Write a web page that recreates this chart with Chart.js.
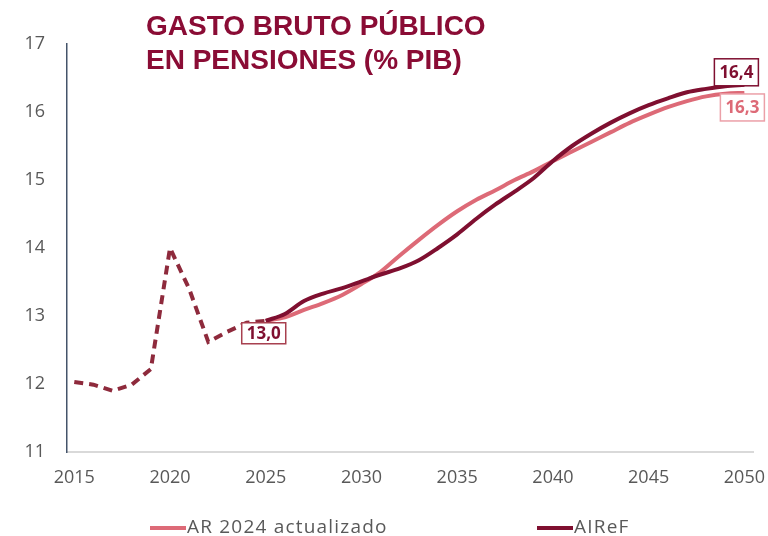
<!DOCTYPE html>
<html lang="es">
<head>
<meta charset="utf-8">
<title>Gasto bruto público en pensiones</title>
<script src="https://cdn.jsdelivr.net/npm/chart.js@4.4.1/dist/chart.umd.min.js"></script>
<style>
    html, body { margin: 0; padding: 0; background: #fff; }
    #wrap { position: relative; width: 768px; height: 536px; }
</style>
</head>
<body>
<div id="wrap"><canvas id="chartPensiones"></canvas></div>
<script>
// ==================== DATOS ====================

const titleLines = ['GASTO BRUTO PÚBLICO', 'EN PENSIONES (% PIB)'];

const histYears = [2015, 2016, 2017, 2018, 2019, 2020, 2021, 2022, 2023, 2024, 2025];
const histValues = [12.03, 11.99, 11.90, 11.99, 12.22, 14.00, 13.40, 12.62, 12.77, 12.90, 12.93];

const projYears = [2025, 2026, 2027, 2028, 2029, 2030, 2031, 2032, 2033, 2034, 2035, 2036, 2037,
    2038, 2039, 2040, 2041, 2042, 2043, 2044, 2045, 2046, 2047, 2048, 2049, 2050];
const arValues = [12.93, 12.98, 13.09, 13.19, 13.31, 13.47, 13.65, 13.89, 14.12, 14.34, 14.54, 14.71, 14.85,
    15.00, 15.13, 15.28, 15.42, 15.56, 15.70, 15.84, 15.96, 16.07, 16.16, 16.23, 16.27, 16.28];
const airefValues = [12.93, 13.03, 13.22, 13.33, 13.41, 13.51, 13.61, 13.70, 13.82, 14.00, 14.20, 14.43, 14.64,
    14.83, 15.03, 15.28, 15.50, 15.68, 15.84, 15.98, 16.10, 16.20, 16.29, 16.34, 16.38, 16.40];

const seriesLabels = ['AR 2024 actualizado', 'AIReF'];
const xTicks = [2015, 2020, 2025, 2030, 2035, 2040, 2045, 2050];
const boxTexts = ['13,0', '16,4', '16,3'];

// ==================== ESTILO ====================

const FONT = '"Open Sans", "DejaVu Sans", sans-serif';
const GRAY = '#595959';
const C_TITLE = '#8a0c35';
const C_HIST = '#8e2a3c';
const C_AIREF = '#7f0f30';
const C_AR = '#dd6a77';

function toPoints(xs, ys) {
    return xs.map((x, i) => ({ x: x, y: ys[i] }));
}

// cajas de valor: dataset, índice del punto, desplazamiento de la caja
const boxes = [
    { ds: 2, idx: histValues.length - 1, dx: -2, dy: 2, h: 21, text: C_AIREF, border: '#a8404f' },
    { ds: 1, idx: airefValues.length - 1, dx: -8, dy: -26, h: 27, text: C_AIREF, border: C_AIREF },
    { ds: 0, idx: arValues.length - 1, dx: -2, dy: 1, h: 27, text: C_AR, border: '#eba0a8' }
];

const overlayPlugin = {
    id: 'overlay',
    afterDraw(chart) {
        const ctx = chart.ctx;
        ctx.save();

        // título
        ctx.fillStyle = C_TITLE;
        ctx.font = 'bold 28px "Liberation Sans", Arial, sans-serif';
        ctx.textAlign = 'left';
        ctx.textBaseline = 'alphabetic';
        titleLines.forEach((t, i) => ctx.fillText(t, 146, 35 + i * 34));

        // cajas con valores
        ctx.font = 'bold 17px ' + FONT;
        ctx.textAlign = 'center';
        ctx.textBaseline = 'middle';
        boxes.forEach((b, i) => {
            const pt = chart.getDatasetMeta(b.ds).data[b.idx];
            const w = ctx.measureText(boxTexts[i]).width + 10;
            const cx = pt.x + b.dx;
            const top = pt.y + b.dy;
            ctx.fillStyle = '#fff';
            ctx.fillRect(cx - w / 2, top, w, b.h);
            ctx.strokeStyle = b.border;
            ctx.lineWidth = 1.5;
            ctx.strokeRect(cx - w / 2, top, w, b.h);
            ctx.fillStyle = b.text;
            ctx.fillText(boxTexts[i], cx, top + b.h / 2 + 1);
        });

        // leyenda
        const legendX = [150, 537];
        const legendY = 528;
        ctx.font = '19px ' + FONT;
        ctx.letterSpacing = '1.2px';
        ctx.textAlign = 'left';
        ctx.textBaseline = 'middle';
        [0, 1].forEach(i => {
            const ds = chart.data.datasets[i];
            ctx.strokeStyle = ds.borderColor;
            ctx.lineWidth = 4;
            ctx.beginPath();
            ctx.moveTo(legendX[i], legendY);
            ctx.lineTo(legendX[i] + 36, legendY);
            ctx.stroke();
            ctx.fillStyle = GRAY;
            ctx.fillText(ds.label, legendX[i] + 37, legendY);
        });

        ctx.restore();
    }
};

// ==================== GRÁFICO ====================

new Chart(document.getElementById('chartPensiones'), {
    type: 'line',
    data: {
        datasets: [
            {
                label: seriesLabels[0],
                data: toPoints(projYears, arValues),
                borderColor: C_AR,
                borderWidth: 4,
                cubicInterpolationMode: 'monotone',
                pointRadius: 0,
                order: 1
            },
            {
                label: seriesLabels[1],
                data: toPoints(projYears, airefValues),
                borderColor: C_AIREF,
                borderWidth: 4,
                cubicInterpolationMode: 'monotone',
                pointRadius: 0,
                order: 0
            },
            {
                label: 'Histórico',
                data: toPoints(histYears, histValues),
                borderColor: C_HIST,
                borderWidth: 4,
                borderDash: [9, 6],
                tension: 0,
                pointRadius: 0,
                order: 2
            }
        ]
    },
    options: {
        responsive: true,
        maintainAspectRatio: false,
        animation: false,
        layout: { padding: { top: 44, right: 15, bottom: 38, left: 0 } },
        plugins: {
            legend: { display: false },
            tooltip: { enabled: false }
        },
        scales: {
            x: {
                type: 'linear',
                min: 2014.62,
                max: 2050.45,
                afterBuildTicks: s => { s.ticks = xTicks.map(v => ({ value: v })); },
                afterFit: s => {
                    s.height = 46;
                    s.paddingLeft = 0;
                    s.paddingRight = 0;
                },
                ticks: {
                    callback: v => String(v),
                    color: GRAY,
                    font: { family: FONT, size: 18 },
                    padding: 15,
                    maxRotation: 0,
                    autoSkip: false
                },
                grid: { display: false, drawTicks: false },
                border: { color: '#d9d9d9', width: 2 }
            },
            y: {
                min: 11,
                max: 17,
                afterFit: s => {
                    s.width = 67;
                    s.paddingTop = 0;
                    s.paddingBottom = 0;
                },
                ticks: {
                    stepSize: 1,
                    color: GRAY,
                    font: { family: FONT, size: 18 },
                    padding: 22
                },
                grid: { display: false, drawTicks: false },
                border: { color: '#44546a', width: 1.5 }
            }
        }
    },
    plugins: [overlayPlugin]
});
</script>
</body>
</html>
